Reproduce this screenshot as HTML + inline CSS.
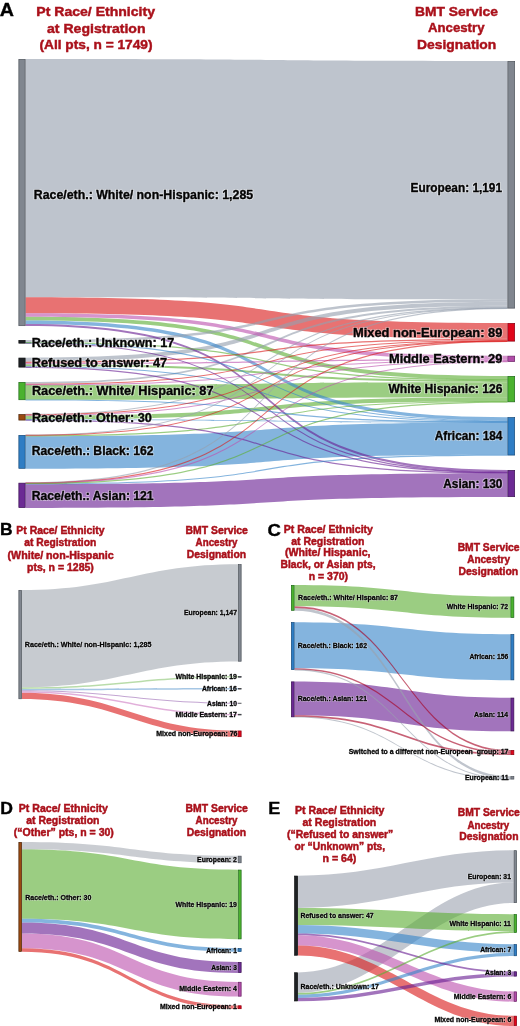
<!DOCTYPE html>
<html><head><meta charset="utf-8"><title>Sankey</title>
<style>
html,body{margin:0;padding:0;background:#fff;}
body{width:520px;height:1026px;overflow:hidden;}
svg{display:block;}
text{font-family:"Liberation Sans", sans-serif;font-weight:bold;}
svg{will-change:transform;}
g.shp{filter:blur(0.35px);}
g.halo{opacity:0.45;filter:blur(0.6px);}
</style></head><body>
<svg width="520" height="1026" viewBox="0 0 520 1026">
<rect width="520" height="1026" fill="#fff"/>
<g class="shp"><path d="M25.50,59.00C338.80,59.00 194.20,61.00 507.50,61.00L507.50,299.35C194.20,299.35 338.80,297.35 25.50,297.35Z" fill="rgba(150,160,174,0.62)"/>
<path d="M25.50,436.25C338.80,436.25 194.20,422.39 507.50,422.39L507.50,454.81C194.20,454.81 338.80,468.66 25.50,468.66Z" fill="rgba(57,134,202,0.62)"/>
<path d="M25.50,484.25C338.80,484.25 194.20,473.32 507.50,473.32L507.50,497.01C194.20,497.01 338.80,507.94 25.50,507.94Z" fill="rgba(105,31,147,0.62)"/>
<path d="M25.50,297.35C338.80,297.35 194.20,323.00 507.50,323.00L507.50,338.79C194.20,338.79 338.80,313.14 25.50,313.14Z" fill="rgba(218,28,28,0.62)"/>
<path d="M25.50,384.91C338.80,384.91 194.20,382.23 507.50,382.23L507.50,397.20C194.20,397.20 338.80,399.87 25.50,399.87Z" fill="rgba(94,174,53,0.62)"/>
<path d="M25.50,316.67C338.80,316.67 194.20,376.00 507.50,376.00L507.50,379.95C194.20,379.95 338.80,320.62 25.50,320.62Z" fill="rgba(94,174,53,0.62)"/>
<path d="M25.50,357.70C338.80,357.70 194.20,301.84 507.50,301.84L507.50,305.79C194.20,305.79 338.80,361.65 25.50,361.65Z" fill="rgba(150,160,174,0.62)"/>
<path d="M25.50,415.65C338.80,415.65 194.20,397.20 507.50,397.20L507.50,401.14C194.20,401.14 338.80,419.60 25.50,419.60Z" fill="rgba(94,174,53,0.62)"/>
<path d="M25.50,313.14C338.80,313.14 194.20,355.80 507.50,355.80L507.50,359.33C194.20,359.33 338.80,316.67 25.50,316.67Z" fill="rgba(189,82,174,0.62)"/>
<path d="M25.50,320.62C338.80,320.62 194.20,417.20 507.50,417.20L507.50,420.52C194.20,420.52 338.80,323.94 25.50,323.94Z" fill="rgba(57,134,202,0.62)"/>
<path d="M25.50,340.00C338.80,340.00 194.20,299.35 507.50,299.35L507.50,301.84C194.20,301.84 338.80,342.49 25.50,342.49Z" fill="rgba(150,160,174,0.62)"/>
<path d="M25.50,323.94C338.80,323.94 194.20,470.00 507.50,470.00L507.50,472.08C194.20,472.08 338.80,326.02 25.50,326.02Z" fill="rgba(105,31,147,0.62)"/>
<path d="M25.50,364.14C338.80,364.14 194.20,380.16 507.50,380.16L507.50,382.23C194.20,382.23 338.80,366.22 25.50,366.22Z" fill="rgba(94,174,53,0.62)"/>
<path d="M25.50,382.00C338.80,382.00 194.20,305.79 507.50,305.79L507.50,307.66C194.20,307.66 338.80,383.87 25.50,383.87Z" fill="rgba(150,160,174,0.62)"/>
<path d="M25.50,361.65C338.80,361.65 194.20,338.79 507.50,338.79L507.50,340.04C194.20,340.04 338.80,362.89 25.50,362.89Z" fill="rgba(218,28,28,0.62)"/>
<path d="M25.50,362.89C338.80,362.89 194.20,359.33 507.50,359.33L507.50,360.58C194.20,360.58 338.80,364.14 25.50,364.14Z" fill="rgba(189,82,174,0.62)"/>
<path d="M25.50,366.19C338.80,366.19 194.20,420.91 507.50,420.91L507.50,422.01C194.20,422.01 338.80,367.29 25.50,367.29Z" fill="rgba(57,134,202,0.62)"/>
<path d="M25.50,383.74C338.80,383.74 194.20,339.91 507.50,339.91L507.50,341.01C194.20,341.01 338.80,384.84 25.50,384.84Z" fill="rgba(218,28,28,0.62)"/>
<path d="M25.50,414.69C338.80,414.69 194.20,360.65 507.50,360.65L507.50,361.75C194.20,361.75 338.80,415.79 25.50,415.79Z" fill="rgba(189,82,174,0.62)"/>
<path d="M25.50,435.28C338.80,435.28 194.20,401.01 507.50,401.01L507.50,402.11C194.20,402.11 338.80,436.38 25.50,436.38Z" fill="rgba(94,174,53,0.62)"/>
<path d="M25.50,419.57C338.80,419.57 194.20,472.46 507.50,472.46L507.50,473.56C194.20,473.56 338.80,420.67 25.50,420.67Z" fill="rgba(105,31,147,0.62)"/>
<path d="M25.50,483.39C338.80,483.39 194.20,454.57 507.50,454.57L507.50,455.67C194.20,455.67 338.80,484.49 25.50,484.49Z" fill="rgba(57,134,202,0.62)"/>
<path d="M25.50,342.36C338.80,342.36 194.20,420.18 507.50,420.18L507.50,421.28C194.20,421.28 338.80,343.46 25.50,343.46Z" fill="rgba(57,134,202,0.62)"/>
<path d="M25.50,342.77C338.80,342.77 194.20,471.74 507.50,471.74L507.50,472.84C194.20,472.84 338.80,343.87 25.50,343.87Z" fill="rgba(105,31,147,0.62)"/>
<path d="M25.50,413.86C338.80,413.86 194.20,307.32 507.50,307.32L507.50,308.42C194.20,308.42 338.80,414.96 25.50,414.96Z" fill="rgba(150,160,174,0.62)"/>
<path d="M25.50,342.05C338.80,342.05 194.20,379.50 507.50,379.50L507.50,380.60C194.20,380.60 338.80,343.15 25.50,343.15Z" fill="rgba(94,174,53,0.62)"/>
<path d="M25.50,366.81C338.80,366.81 194.20,472.05 507.50,472.05L507.50,473.15C194.20,473.15 338.80,367.91 25.50,367.91Z" fill="rgba(105,31,147,0.62)"/>
<path d="M25.50,384.26C338.80,384.26 194.20,360.13 507.50,360.13L507.50,361.23C194.20,361.23 338.80,385.36 25.50,385.36Z" fill="rgba(189,82,174,0.62)"/>
<path d="M25.50,399.42C338.80,399.42 194.20,421.53 507.50,421.53L507.50,422.63C194.20,422.63 338.80,400.52 25.50,400.52Z" fill="rgba(57,134,202,0.62)"/>
<path d="M25.50,414.17C338.80,414.17 194.20,340.42 507.50,340.42L507.50,341.52C194.20,341.52 338.80,415.27 25.50,415.27Z" fill="rgba(218,28,28,0.62)"/>
<path d="M25.50,419.16C338.80,419.16 194.20,421.74 507.50,421.74L507.50,422.84C194.20,422.84 338.80,420.26 25.50,420.26Z" fill="rgba(57,134,202,0.62)"/>
<path d="M25.50,434.55C338.80,434.55 194.20,307.63 507.50,307.63L507.50,308.73C194.20,308.73 338.80,435.65 25.50,435.65Z" fill="rgba(150,160,174,0.62)"/>
<path d="M25.50,434.76C338.80,434.76 194.20,340.63 507.50,340.63L507.50,341.73C194.20,341.73 338.80,435.86 25.50,435.86Z" fill="rgba(218,28,28,0.62)"/>
<path d="M25.50,482.35C338.80,482.35 194.20,307.84 507.50,307.84L507.50,308.94C194.20,308.94 338.80,483.45 25.50,483.45Z" fill="rgba(150,160,174,0.62)"/>
<path d="M25.50,482.56C338.80,482.56 194.20,340.84 507.50,340.84L507.50,341.94C194.20,341.94 338.80,483.66 25.50,483.66Z" fill="rgba(218,28,28,0.62)"/>
<path d="M25.50,482.77C338.80,482.77 194.20,361.17 507.50,361.17L507.50,362.27C194.20,362.27 338.80,483.87 25.50,483.87Z" fill="rgba(189,82,174,0.62)"/>
<path d="M25.50,482.98C338.80,482.98 194.20,401.53 507.50,401.53L507.50,402.63C194.20,402.63 338.80,484.08 25.50,484.08Z" fill="rgba(94,174,53,0.62)"/>
<rect x="18.85" y="59.35" width="6.30" height="266.32" fill="#80868f" stroke="#4f545c" stroke-width="0.7"/>
<rect x="18.85" y="340.35" width="6.30" height="2.83" fill="#1e2124" stroke="#0d0f10" stroke-width="0.7"/>
<rect x="18.85" y="358.05" width="6.30" height="9.07" fill="#1e2124" stroke="#0d0f10" stroke-width="0.7"/>
<rect x="18.85" y="382.35" width="6.30" height="17.38" fill="#4bb22f" stroke="#1f6a18" stroke-width="0.7"/>
<rect x="18.85" y="414.55" width="6.30" height="5.53" fill="#9a4a10" stroke="#4a2206" stroke-width="0.7"/>
<rect x="18.85" y="435.35" width="6.30" height="32.96" fill="#2f7dc4" stroke="#164a7a" stroke-width="0.7"/>
<rect x="18.85" y="483.15" width="6.30" height="24.44" fill="#6c2a94" stroke="#3a1252" stroke-width="0.7"/>
<rect x="507.85" y="61.35" width="6.80" height="246.79" fill="#80868f" stroke="#4f545c" stroke-width="0.7"/>
<rect x="507.85" y="323.35" width="6.80" height="17.79" fill="#e0061b" stroke="#8a0010" stroke-width="0.7"/>
<rect x="507.85" y="356.15" width="6.80" height="5.33" fill="#b04ca8" stroke="#6a2064" stroke-width="0.7"/>
<rect x="507.85" y="376.35" width="6.80" height="25.48" fill="#4bb22f" stroke="#1f6a18" stroke-width="0.7"/>
<rect x="507.85" y="417.55" width="6.80" height="37.54" fill="#2f7dc4" stroke="#164a7a" stroke-width="0.7"/>
<rect x="507.85" y="470.35" width="6.80" height="26.31" fill="#6c2a94" stroke="#3a1252" stroke-width="0.7"/>
<path d="M22.00,590.00C119.20,590.00 140.80,564.20 238.00,564.20L238.00,661.58C140.80,661.58 119.20,687.38 22.00,687.38Z" fill="rgba(165,171,179,0.62)"/>
<path d="M22.00,692.64C119.20,692.64 140.80,730.60 238.00,730.60L238.00,737.05C140.80,737.05 119.20,699.10 22.00,699.10Z" fill="rgba(218,28,28,0.62)"/>
<path d="M22.00,687.38C119.20,687.38 140.80,676.00 238.00,676.00L238.00,677.61C140.80,677.61 119.20,688.99 22.00,688.99Z" fill="rgba(142,199,118,0.62)"/>
<path d="M22.00,691.20C119.20,691.20 140.80,713.90 238.00,713.90L238.00,715.34C140.80,715.34 119.20,692.64 22.00,692.64Z" fill="rgba(207,126,195,0.62)"/>
<path d="M22.00,688.99C119.20,688.99 140.80,688.10 238.00,688.10L238.00,689.46C140.80,689.46 119.20,690.35 22.00,690.35Z" fill="rgba(110,163,211,0.62)"/>
<path d="M22.00,690.23C119.20,690.23 140.80,702.67 238.00,702.67L238.00,703.77C140.80,703.77 119.20,691.33 22.00,691.33Z" fill="rgba(158,110,182,0.62)"/>
<rect x="18.85" y="590.35" width="2.80" height="108.40" fill="#80868f" stroke="#4f545c" stroke-width="0.7"/>
<rect x="238.35" y="564.55" width="2.80" height="96.68" fill="#80868f" stroke="#4f545c" stroke-width="0.7"/>
<rect x="238.35" y="676.35" width="2.80" height="0.91" fill="#55585e" stroke="#404348" stroke-width="0.7"/>
<rect x="238.35" y="688.45" width="2.80" height="0.66" fill="#55585e" stroke="#404348" stroke-width="0.7"/>
<rect x="238.35" y="703.15" width="2.80" height="0.15" fill="#55585e" stroke="#404348" stroke-width="0.7"/>
<rect x="238.35" y="714.25" width="2.80" height="0.74" fill="#55585e" stroke="#404348" stroke-width="0.7"/>
<rect x="238.35" y="730.95" width="2.80" height="5.75" fill="#e0061b" stroke="#8a0010" stroke-width="0.7"/>
<path d="M294.50,622.20C402.50,622.20 402.50,634.20 510.50,634.20L510.50,680.22C402.50,680.22 402.50,668.22 294.50,668.22Z" fill="rgba(57,134,202,0.62)"/>
<path d="M294.50,681.50C402.50,681.50 402.50,697.70 510.50,697.70L510.50,731.33C402.50,731.33 402.50,715.13 294.50,715.13Z" fill="rgba(105,31,147,0.62)"/>
<path d="M294.50,585.00C402.50,585.00 402.50,596.60 510.50,596.60L510.50,617.84C402.50,617.84 402.50,606.24 294.50,606.24Z" fill="rgba(94,174,53,0.62)"/>
<path d="M294.50,608.01C402.50,608.01 402.50,776.20 510.50,776.20L510.50,778.86C402.50,778.86 402.50,610.66 294.50,610.66Z" fill="rgba(153,161,174,0.62)"/>
<path d="M294.50,606.24C402.50,606.24 402.50,750.00 510.50,750.00L510.50,751.77C402.50,751.77 402.50,608.01 294.50,608.01Z" fill="rgba(166,0,34,0.62)"/>
<path d="M294.50,715.13C402.50,715.13 402.50,753.25 510.50,753.25L510.50,755.01C402.50,755.01 402.50,716.90 294.50,716.90Z" fill="rgba(166,0,34,0.62)"/>
<path d="M294.50,668.22C402.50,668.22 402.50,751.77 510.50,751.77L510.50,753.25C402.50,753.25 402.50,669.70 294.50,669.70Z" fill="rgba(166,0,34,0.62)"/>
<path d="M294.50,669.29C402.50,669.29 402.50,778.45 510.50,778.45L510.50,779.55C402.50,779.55 402.50,670.39 294.50,670.39Z" fill="rgba(153,161,174,0.62)"/>
<path d="M294.50,716.50C402.50,716.50 402.50,778.75 510.50,778.75L510.50,779.85C402.50,779.85 402.50,717.60 294.50,717.60Z" fill="rgba(153,161,174,0.62)"/>
<rect x="291.35" y="585.35" width="2.80" height="24.96" fill="#4bb22f" stroke="#1f6a18" stroke-width="0.7"/>
<rect x="291.35" y="622.55" width="2.80" height="47.09" fill="#2f7dc4" stroke="#164a7a" stroke-width="0.7"/>
<rect x="291.35" y="681.85" width="2.80" height="35.00" fill="#6c2a94" stroke="#3a1252" stroke-width="0.7"/>
<rect x="510.85" y="596.95" width="3.00" height="20.54" fill="#4bb22f" stroke="#1f6a18" stroke-width="0.7"/>
<rect x="510.85" y="634.55" width="3.00" height="45.32" fill="#2f7dc4" stroke="#164a7a" stroke-width="0.7"/>
<rect x="510.85" y="698.05" width="3.00" height="32.93" fill="#6c2a94" stroke="#3a1252" stroke-width="0.7"/>
<rect x="510.85" y="750.35" width="3.00" height="4.31" fill="#e0061b" stroke="#8a0010" stroke-width="0.7"/>
<rect x="510.85" y="776.55" width="3.00" height="2.55" fill="#80868f" stroke="#4f545c" stroke-width="0.7"/>
<path d="M22.00,849.32C130.10,849.32 130.10,869.70 238.20,869.70L238.20,939.24C130.10,939.24 130.10,918.86 22.00,918.86Z" fill="rgba(94,174,53,0.62)"/>
<path d="M22.00,933.50C130.10,933.50 130.10,981.90 238.20,981.90L238.20,996.54C130.10,996.54 130.10,948.14 22.00,948.14Z" fill="rgba(189,82,174,0.62)"/>
<path d="M22.00,922.52C130.10,922.52 130.10,962.00 238.20,962.00L238.20,972.98C130.10,972.98 130.10,933.50 22.00,933.50Z" fill="rgba(105,31,147,0.62)"/>
<path d="M22.00,842.00C130.10,842.00 130.10,855.80 238.20,855.80L238.20,863.12C130.10,863.12 130.10,849.32 22.00,849.32Z" fill="rgba(170,174,182,0.62)"/>
<path d="M22.00,918.86C130.10,918.86 130.10,948.20 238.20,948.20L238.20,951.86C130.10,951.86 130.10,922.52 22.00,922.52Z" fill="rgba(57,134,202,0.62)"/>
<path d="M22.00,948.14C130.10,948.14 130.10,1005.40 238.20,1005.40L238.20,1009.06C130.10,1009.06 130.10,951.80 22.00,951.80Z" fill="rgba(218,28,28,0.62)"/>
<rect x="18.85" y="842.35" width="2.80" height="109.10" fill="#9a4a10" stroke="#4a2206" stroke-width="0.7"/>
<rect x="238.55" y="856.15" width="2.60" height="6.62" fill="#80868f" stroke="#4f545c" stroke-width="0.7"/>
<rect x="238.55" y="870.05" width="2.60" height="68.84" fill="#4bb22f" stroke="#1f6a18" stroke-width="0.7"/>
<rect x="238.55" y="948.55" width="2.60" height="2.96" fill="#2f7dc4" stroke="#164a7a" stroke-width="0.7"/>
<rect x="238.55" y="962.35" width="2.60" height="10.28" fill="#6c2a94" stroke="#3a1252" stroke-width="0.7"/>
<rect x="238.55" y="982.25" width="2.60" height="13.94" fill="#b04ca8" stroke="#6a2064" stroke-width="0.7"/>
<rect x="238.55" y="1005.75" width="2.60" height="2.96" fill="#e0061b" stroke="#8a0010" stroke-width="0.7"/>
<path d="M298.00,875.70C384.28,875.70 427.42,850.30 513.70,850.30L513.70,882.60C427.42,882.60 384.28,908.00 298.00,908.00Z" fill="rgba(158,165,178,0.62)"/>
<path d="M298.00,972.40C384.28,972.40 427.42,882.60 513.70,882.60L513.70,903.00C427.42,903.00 384.28,992.80 298.00,992.80Z" fill="rgba(158,165,178,0.62)"/>
<path d="M298.00,908.00C384.28,908.00 427.42,914.20 513.70,914.20L513.70,931.20C427.42,931.20 384.28,925.00 298.00,925.00Z" fill="rgba(94,174,53,0.62)"/>
<path d="M298.00,935.20C384.28,935.20 427.42,991.50 513.70,991.50L513.70,1001.70C427.42,1001.70 384.28,945.40 298.00,945.40Z" fill="rgba(189,82,174,0.62)"/>
<path d="M298.00,945.40C384.28,945.40 427.42,1015.80 513.70,1015.80L513.70,1026.00C427.42,1026.00 384.28,955.60 298.00,955.60Z" fill="rgba(218,28,28,0.62)"/>
<path d="M298.00,925.00C384.28,925.00 427.42,944.20 513.70,944.20L513.70,952.70C427.42,952.70 384.28,933.50 298.00,933.50Z" fill="rgba(57,134,202,0.62)"/>
<path d="M298.00,994.50C384.28,994.50 427.42,952.70 513.70,952.70L513.70,956.10C427.42,956.10 384.28,997.90 298.00,997.90Z" fill="rgba(57,134,202,0.62)"/>
<path d="M298.00,997.90C384.28,997.90 427.42,973.10 513.70,973.10L513.70,976.50C427.42,976.50 384.28,1001.30 298.00,1001.30Z" fill="rgba(105,31,147,0.62)"/>
<path d="M298.00,933.50C384.28,933.50 427.42,971.40 513.70,971.40L513.70,973.10C427.42,973.10 384.28,935.20 298.00,935.20Z" fill="rgba(105,31,147,0.62)"/>
<path d="M298.00,992.80C384.28,992.80 427.42,931.20 513.70,931.20L513.70,932.90C427.42,932.90 384.28,994.50 298.00,994.50Z" fill="rgba(94,174,53,0.62)"/>
<rect x="294.65" y="876.05" width="3.00" height="79.20" fill="#1e2124" stroke="#0d0f10" stroke-width="0.7"/>
<rect x="294.65" y="972.75" width="3.00" height="28.20" fill="#1e2124" stroke="#0d0f10" stroke-width="0.7"/>
<rect x="514.05" y="850.65" width="2.60" height="52.00" fill="#80868f" stroke="#4f545c" stroke-width="0.7"/>
<rect x="514.05" y="914.55" width="2.60" height="18.00" fill="#4bb22f" stroke="#1f6a18" stroke-width="0.7"/>
<rect x="514.05" y="944.55" width="2.60" height="11.20" fill="#2f7dc4" stroke="#164a7a" stroke-width="0.7"/>
<rect x="514.05" y="971.75" width="2.60" height="4.40" fill="#6c2a94" stroke="#3a1252" stroke-width="0.7"/>
<rect x="514.05" y="991.85" width="2.60" height="9.50" fill="#b04ca8" stroke="#6a2064" stroke-width="0.7"/>
<rect x="514.05" y="1016.15" width="2.60" height="9.50" fill="#e0061b" stroke="#8a0010" stroke-width="0.7"/></g>
<g class="halo"><text x="-0.30" y="15.90" font-size="18.3" fill="#fff" stroke="#fff" stroke-width="2.2" stroke-linejoin="round" text-anchor="start" textLength="14.20" lengthAdjust="spacingAndGlyphs">A</text>
<text x="0.00" y="535.00" font-size="16.3" fill="#fff" stroke="#fff" stroke-width="2.2" stroke-linejoin="round" text-anchor="start" textLength="12.60" lengthAdjust="spacingAndGlyphs">B</text>
<text x="267.60" y="535.60" font-size="17.0" fill="#fff" stroke="#fff" stroke-width="2.2" stroke-linejoin="round" text-anchor="start" textLength="13.40" lengthAdjust="spacingAndGlyphs">C</text>
<text x="0.20" y="813.80" font-size="15.6" fill="#fff" stroke="#fff" stroke-width="2.2" stroke-linejoin="round" text-anchor="start" textLength="12.70" lengthAdjust="spacingAndGlyphs">D</text>
<text x="268.30" y="813.80" font-size="16.5" fill="#fff" stroke="#fff" stroke-width="2.2" stroke-linejoin="round" text-anchor="start" textLength="12.00" lengthAdjust="spacingAndGlyphs">E</text>
<text x="33.80" y="198.50" font-size="12" fill="#fff" stroke="#fff" stroke-width="2.2" stroke-linejoin="round" text-anchor="start" textLength="219.30" lengthAdjust="spacingAndGlyphs">Race/eth.: White/ non-Hispanic: 1,285</text>
<text x="31.80" y="346.50" font-size="12" fill="#fff" stroke="#fff" stroke-width="2.2" stroke-linejoin="round" text-anchor="start" textLength="142.40" lengthAdjust="spacingAndGlyphs">Race/eth.: Unknown: 17</text>
<text x="31.80" y="367.40" font-size="12" fill="#fff" stroke="#fff" stroke-width="2.2" stroke-linejoin="round" text-anchor="start" textLength="135.40" lengthAdjust="spacingAndGlyphs">Refused to answer: 47</text>
<text x="31.90" y="395.40" font-size="12" fill="#fff" stroke="#fff" stroke-width="2.2" stroke-linejoin="round" text-anchor="start" textLength="181.60" lengthAdjust="spacingAndGlyphs">Race/eth.: White/ Hispanic: 87</text>
<text x="31.90" y="421.50" font-size="12" fill="#fff" stroke="#fff" stroke-width="2.2" stroke-linejoin="round" text-anchor="start" textLength="120.00" lengthAdjust="spacingAndGlyphs">Race/eth.: Other: 30</text>
<text x="31.80" y="455.40" font-size="12" fill="#fff" stroke="#fff" stroke-width="2.2" stroke-linejoin="round" text-anchor="start" textLength="121.80" lengthAdjust="spacingAndGlyphs">Race/eth.: Black: 162</text>
<text x="31.80" y="500.00" font-size="12" fill="#fff" stroke="#fff" stroke-width="2.2" stroke-linejoin="round" text-anchor="start" textLength="121.80" lengthAdjust="spacingAndGlyphs">Race/eth.: Asian: 121</text>
<text x="410.60" y="191.50" font-size="12" fill="#fff" stroke="#fff" stroke-width="2.2" stroke-linejoin="round" text-anchor="start" textLength="91.40" lengthAdjust="spacingAndGlyphs">European: 1,191</text>
<text x="353.00" y="336.60" font-size="12" fill="#fff" stroke="#fff" stroke-width="2.2" stroke-linejoin="round" text-anchor="start" textLength="149.40" lengthAdjust="spacingAndGlyphs">Mixed non-European: 89</text>
<text x="389.00" y="362.70" font-size="12" fill="#fff" stroke="#fff" stroke-width="2.2" stroke-linejoin="round" text-anchor="start" textLength="113.40" lengthAdjust="spacingAndGlyphs">Middle Eastern: 29</text>
<text x="388.40" y="393.00" font-size="12" fill="#fff" stroke="#fff" stroke-width="2.2" stroke-linejoin="round" text-anchor="start" textLength="114.00" lengthAdjust="spacingAndGlyphs">White Hispanic: 126</text>
<text x="434.80" y="440.40" font-size="12" fill="#fff" stroke="#fff" stroke-width="2.2" stroke-linejoin="round" text-anchor="start" textLength="67.60" lengthAdjust="spacingAndGlyphs">African: 184</text>
<text x="443.30" y="487.70" font-size="12" fill="#fff" stroke="#fff" stroke-width="2.2" stroke-linejoin="round" text-anchor="start" textLength="59.10" lengthAdjust="spacingAndGlyphs">Asian: 130</text>
<text x="24.80" y="647.10" font-size="7" fill="#fff" stroke="#fff" stroke-width="1.4" stroke-linejoin="round" text-anchor="start" textLength="126.60" lengthAdjust="spacingAndGlyphs">Race/eth.: White/ non-Hispanic: 1,285</text>
<text x="183.90" y="615.20" font-size="7" fill="#fff" stroke="#fff" stroke-width="1.4" stroke-linejoin="round" text-anchor="start" textLength="53.10" lengthAdjust="spacingAndGlyphs">European: 1,147</text>
<text x="175.60" y="679.30" font-size="7" fill="#fff" stroke="#fff" stroke-width="1.4" stroke-linejoin="round" text-anchor="start" textLength="61.30" lengthAdjust="spacingAndGlyphs">White Hispanic: 19</text>
<text x="201.90" y="690.90" font-size="7" fill="#fff" stroke="#fff" stroke-width="1.4" stroke-linejoin="round" text-anchor="start" textLength="35.00" lengthAdjust="spacingAndGlyphs">African: 16</text>
<text x="207.10" y="706.00" font-size="7" fill="#fff" stroke="#fff" stroke-width="1.4" stroke-linejoin="round" text-anchor="start" textLength="29.80" lengthAdjust="spacingAndGlyphs">Asian: 10</text>
<text x="175.60" y="717.00" font-size="7" fill="#fff" stroke="#fff" stroke-width="1.4" stroke-linejoin="round" text-anchor="start" textLength="61.30" lengthAdjust="spacingAndGlyphs">Middle Eastern: 17</text>
<text x="156.30" y="735.80" font-size="7" fill="#fff" stroke="#fff" stroke-width="1.4" stroke-linejoin="round" text-anchor="start" textLength="81.20" lengthAdjust="spacingAndGlyphs">Mixed non-European: 76</text>
<text x="298.10" y="599.70" font-size="7" fill="#fff" stroke="#fff" stroke-width="1.4" stroke-linejoin="round" text-anchor="start" textLength="99.90" lengthAdjust="spacingAndGlyphs">Race/eth.: White/ Hispanic: 87</text>
<text x="297.80" y="648.00" font-size="7" fill="#fff" stroke="#fff" stroke-width="1.4" stroke-linejoin="round" text-anchor="start" textLength="69.20" lengthAdjust="spacingAndGlyphs">Race/eth.: Black: 162</text>
<text x="297.80" y="700.70" font-size="7" fill="#fff" stroke="#fff" stroke-width="1.4" stroke-linejoin="round" text-anchor="start" textLength="69.20" lengthAdjust="spacingAndGlyphs">Race/eth.: Asian: 121</text>
<text x="446.80" y="609.20" font-size="7" fill="#fff" stroke="#fff" stroke-width="1.4" stroke-linejoin="round" text-anchor="start" textLength="61.40" lengthAdjust="spacingAndGlyphs">White Hispanic: 72</text>
<text x="469.40" y="658.80" font-size="7" fill="#fff" stroke="#fff" stroke-width="1.4" stroke-linejoin="round" text-anchor="start" textLength="38.80" lengthAdjust="spacingAndGlyphs">African: 156</text>
<text x="474.10" y="716.80" font-size="7" fill="#fff" stroke="#fff" stroke-width="1.4" stroke-linejoin="round" text-anchor="start" textLength="34.10" lengthAdjust="spacingAndGlyphs">Asian: 114</text>
<text x="348.70" y="753.80" font-size="7" fill="#fff" stroke="#fff" stroke-width="1.4" stroke-linejoin="round" text-anchor="start" textLength="159.80" lengthAdjust="spacingAndGlyphs">Switched to a different non-European  group: 17</text>
<text x="465.00" y="779.70" font-size="7" fill="#fff" stroke="#fff" stroke-width="1.4" stroke-linejoin="round" text-anchor="start" textLength="43.50" lengthAdjust="spacingAndGlyphs">European: 11</text>
<text x="25.20" y="899.50" font-size="7" fill="#fff" stroke="#fff" stroke-width="1.4" stroke-linejoin="round" text-anchor="start" textLength="66.10" lengthAdjust="spacingAndGlyphs">Race/eth.: Other: 30</text>
<text x="197.10" y="861.90" font-size="7" fill="#fff" stroke="#fff" stroke-width="1.4" stroke-linejoin="round" text-anchor="start" textLength="39.80" lengthAdjust="spacingAndGlyphs">European: 2</text>
<text x="175.60" y="906.70" font-size="7" fill="#fff" stroke="#fff" stroke-width="1.4" stroke-linejoin="round" text-anchor="start" textLength="61.30" lengthAdjust="spacingAndGlyphs">White Hispanic: 19</text>
<text x="206.20" y="952.50" font-size="7" fill="#fff" stroke="#fff" stroke-width="1.4" stroke-linejoin="round" text-anchor="start" textLength="30.70" lengthAdjust="spacingAndGlyphs">African: 1</text>
<text x="211.20" y="969.80" font-size="7" fill="#fff" stroke="#fff" stroke-width="1.4" stroke-linejoin="round" text-anchor="start" textLength="25.70" lengthAdjust="spacingAndGlyphs">Asian: 3</text>
<text x="179.20" y="991.00" font-size="7" fill="#fff" stroke="#fff" stroke-width="1.4" stroke-linejoin="round" text-anchor="start" textLength="57.70" lengthAdjust="spacingAndGlyphs">Middle Eastern: 4</text>
<text x="160.00" y="1009.20" font-size="7" fill="#fff" stroke="#fff" stroke-width="1.4" stroke-linejoin="round" text-anchor="start" textLength="76.90" lengthAdjust="spacingAndGlyphs">Mixed non-European: 1</text>
<text x="300.50" y="918.00" font-size="7" fill="#fff" stroke="#fff" stroke-width="1.4" stroke-linejoin="round" text-anchor="start" textLength="73.20" lengthAdjust="spacingAndGlyphs">Refused to answer: 47</text>
<text x="300.50" y="988.80" font-size="7" fill="#fff" stroke="#fff" stroke-width="1.4" stroke-linejoin="round" text-anchor="start" textLength="78.40" lengthAdjust="spacingAndGlyphs">Race/eth.: Unknown: 17</text>
<text x="467.70" y="878.80" font-size="7" fill="#fff" stroke="#fff" stroke-width="1.4" stroke-linejoin="round" text-anchor="start" textLength="43.30" lengthAdjust="spacingAndGlyphs">European: 31</text>
<text x="449.40" y="925.60" font-size="7" fill="#fff" stroke="#fff" stroke-width="1.4" stroke-linejoin="round" text-anchor="start" textLength="61.60" lengthAdjust="spacingAndGlyphs">White Hispanic: 11</text>
<text x="480.20" y="951.50" font-size="7" fill="#fff" stroke="#fff" stroke-width="1.4" stroke-linejoin="round" text-anchor="start" textLength="31.10" lengthAdjust="spacingAndGlyphs">African: 7</text>
<text x="485.00" y="975.40" font-size="7" fill="#fff" stroke="#fff" stroke-width="1.4" stroke-linejoin="round" text-anchor="start" textLength="26.30" lengthAdjust="spacingAndGlyphs">Asian: 3</text>
<text x="453.70" y="998.50" font-size="7" fill="#fff" stroke="#fff" stroke-width="1.4" stroke-linejoin="round" text-anchor="start" textLength="57.60" lengthAdjust="spacingAndGlyphs">Middle Eastern: 6</text>
<text x="434.40" y="1022.10" font-size="7" fill="#fff" stroke="#fff" stroke-width="1.4" stroke-linejoin="round" text-anchor="start" textLength="76.90" lengthAdjust="spacingAndGlyphs">Mixed non-European: 6</text></g>
<g class="txt"><text class="l" x="-0.30" y="15.90" font-size="18.3" fill="#000" stroke="#000" stroke-width="0.35" text-anchor="start" textLength="14.20" lengthAdjust="spacingAndGlyphs">A</text>
<text class="l" x="0.00" y="535.00" font-size="16.3" fill="#000" stroke="#000" stroke-width="0.35" text-anchor="start" textLength="12.60" lengthAdjust="spacingAndGlyphs">B</text>
<text class="l" x="267.60" y="535.60" font-size="17.0" fill="#000" stroke="#000" stroke-width="0.35" text-anchor="start" textLength="13.40" lengthAdjust="spacingAndGlyphs">C</text>
<text class="l" x="0.20" y="813.80" font-size="15.6" fill="#000" stroke="#000" stroke-width="0.35" text-anchor="start" textLength="12.70" lengthAdjust="spacingAndGlyphs">D</text>
<text class="l" x="268.30" y="813.80" font-size="16.5" fill="#000" stroke="#000" stroke-width="0.35" text-anchor="start" textLength="12.00" lengthAdjust="spacingAndGlyphs">E</text>
<text class="t" x="36.30" y="16.30" font-size="13.5" fill="#aa111b" stroke="#aa111b" stroke-width="0.45" text-anchor="start" textLength="118.70" lengthAdjust="spacingAndGlyphs">Pt Race/ Ethnicity</text>
<text class="t" x="47.00" y="32.50" font-size="13.5" fill="#aa111b" stroke="#aa111b" stroke-width="0.45" text-anchor="start" textLength="98.50" lengthAdjust="spacingAndGlyphs">at Registration</text>
<text class="t" x="39.50" y="48.80" font-size="13.5" fill="#aa111b" stroke="#aa111b" stroke-width="0.45" text-anchor="start" textLength="113.00" lengthAdjust="spacingAndGlyphs">(All pts, n = 1749)</text>
<text class="t" x="415.00" y="15.60" font-size="13.5" fill="#aa111b" stroke="#aa111b" stroke-width="0.45" text-anchor="start" textLength="83.00" lengthAdjust="spacingAndGlyphs">BMT Service</text>
<text class="t" x="428.00" y="32.00" font-size="13.5" fill="#aa111b" stroke="#aa111b" stroke-width="0.45" text-anchor="start" textLength="56.50" lengthAdjust="spacingAndGlyphs">Ancestry</text>
<text class="t" x="417.00" y="48.80" font-size="13.5" fill="#aa111b" stroke="#aa111b" stroke-width="0.45" text-anchor="start" textLength="79.30" lengthAdjust="spacingAndGlyphs">Designation</text>
<text class="l" x="33.80" y="198.50" font-size="12" fill="#050505" stroke="#050505" stroke-width="0.35" text-anchor="start" textLength="219.30" lengthAdjust="spacingAndGlyphs">Race/eth.: White/ non-Hispanic: 1,285</text>
<text class="l" x="31.80" y="346.50" font-size="12" fill="#050505" stroke="#050505" stroke-width="0.35" text-anchor="start" textLength="142.40" lengthAdjust="spacingAndGlyphs">Race/eth.: Unknown: 17</text>
<text class="l" x="31.80" y="367.40" font-size="12" fill="#050505" stroke="#050505" stroke-width="0.35" text-anchor="start" textLength="135.40" lengthAdjust="spacingAndGlyphs">Refused to answer: 47</text>
<text class="l" x="31.90" y="395.40" font-size="12" fill="#050505" stroke="#050505" stroke-width="0.35" text-anchor="start" textLength="181.60" lengthAdjust="spacingAndGlyphs">Race/eth.: White/ Hispanic: 87</text>
<text class="l" x="31.90" y="421.50" font-size="12" fill="#050505" stroke="#050505" stroke-width="0.35" text-anchor="start" textLength="120.00" lengthAdjust="spacingAndGlyphs">Race/eth.: Other: 30</text>
<text class="l" x="31.80" y="455.40" font-size="12" fill="#050505" stroke="#050505" stroke-width="0.35" text-anchor="start" textLength="121.80" lengthAdjust="spacingAndGlyphs">Race/eth.: Black: 162</text>
<text class="l" x="31.80" y="500.00" font-size="12" fill="#050505" stroke="#050505" stroke-width="0.35" text-anchor="start" textLength="121.80" lengthAdjust="spacingAndGlyphs">Race/eth.: Asian: 121</text>
<text class="l" x="410.60" y="191.50" font-size="12" fill="#050505" stroke="#050505" stroke-width="0.35" text-anchor="start" textLength="91.40" lengthAdjust="spacingAndGlyphs">European: 1,191</text>
<text class="l" x="353.00" y="336.60" font-size="12" fill="#050505" stroke="#050505" stroke-width="0.35" text-anchor="start" textLength="149.40" lengthAdjust="spacingAndGlyphs">Mixed non-European: 89</text>
<text class="l" x="389.00" y="362.70" font-size="12" fill="#050505" stroke="#050505" stroke-width="0.35" text-anchor="start" textLength="113.40" lengthAdjust="spacingAndGlyphs">Middle Eastern: 29</text>
<text class="l" x="388.40" y="393.00" font-size="12" fill="#050505" stroke="#050505" stroke-width="0.35" text-anchor="start" textLength="114.00" lengthAdjust="spacingAndGlyphs">White Hispanic: 126</text>
<text class="l" x="434.80" y="440.40" font-size="12" fill="#050505" stroke="#050505" stroke-width="0.35" text-anchor="start" textLength="67.60" lengthAdjust="spacingAndGlyphs">African: 184</text>
<text class="l" x="443.30" y="487.70" font-size="12" fill="#050505" stroke="#050505" stroke-width="0.35" text-anchor="start" textLength="59.10" lengthAdjust="spacingAndGlyphs">Asian: 130</text>
<text class="t" x="16.30" y="533.70" font-size="10.0" fill="#aa111b" stroke="#aa111b" stroke-width="0.45" text-anchor="start" textLength="88.20" lengthAdjust="spacingAndGlyphs">Pt Race/ Ethnicity</text>
<text class="t" x="24.30" y="546.20" font-size="10.0" fill="#aa111b" stroke="#aa111b" stroke-width="0.45" text-anchor="start" textLength="72.00" lengthAdjust="spacingAndGlyphs">at Registration</text>
<text class="t" x="7.50" y="558.50" font-size="10.0" fill="#aa111b" stroke="#aa111b" stroke-width="0.45" text-anchor="start" textLength="106.30" lengthAdjust="spacingAndGlyphs">(White/ non-Hispanic</text>
<text class="t" x="27.00" y="570.50" font-size="10.0" fill="#aa111b" stroke="#aa111b" stroke-width="0.45" text-anchor="start" textLength="66.80" lengthAdjust="spacingAndGlyphs">pts, n = 1285)</text>
<text class="t" x="185.60" y="533.50" font-size="10.0" fill="#aa111b" stroke="#aa111b" stroke-width="0.45" text-anchor="start" textLength="62.30" lengthAdjust="spacingAndGlyphs">BMT Service</text>
<text class="t" x="195.60" y="546.10" font-size="10.0" fill="#aa111b" stroke="#aa111b" stroke-width="0.45" text-anchor="start" textLength="41.90" lengthAdjust="spacingAndGlyphs">Ancestry</text>
<text class="t" x="186.80" y="558.30" font-size="10.0" fill="#aa111b" stroke="#aa111b" stroke-width="0.45" text-anchor="start" textLength="59.30" lengthAdjust="spacingAndGlyphs">Designation</text>
<text class="s" x="24.80" y="647.10" font-size="7" fill="#050505" stroke="#050505" stroke-width="0.3" text-anchor="start" textLength="126.60" lengthAdjust="spacingAndGlyphs">Race/eth.: White/ non-Hispanic: 1,285</text>
<text class="s" x="183.90" y="615.20" font-size="7" fill="#050505" stroke="#050505" stroke-width="0.3" text-anchor="start" textLength="53.10" lengthAdjust="spacingAndGlyphs">European: 1,147</text>
<text class="s" x="175.60" y="679.30" font-size="7" fill="#050505" stroke="#050505" stroke-width="0.3" text-anchor="start" textLength="61.30" lengthAdjust="spacingAndGlyphs">White Hispanic: 19</text>
<text class="s" x="201.90" y="690.90" font-size="7" fill="#050505" stroke="#050505" stroke-width="0.3" text-anchor="start" textLength="35.00" lengthAdjust="spacingAndGlyphs">African: 16</text>
<text class="s" x="207.10" y="706.00" font-size="7" fill="#050505" stroke="#050505" stroke-width="0.3" text-anchor="start" textLength="29.80" lengthAdjust="spacingAndGlyphs">Asian: 10</text>
<text class="s" x="175.60" y="717.00" font-size="7" fill="#050505" stroke="#050505" stroke-width="0.3" text-anchor="start" textLength="61.30" lengthAdjust="spacingAndGlyphs">Middle Eastern: 17</text>
<text class="s" x="156.30" y="735.80" font-size="7" fill="#050505" stroke="#050505" stroke-width="0.3" text-anchor="start" textLength="81.20" lengthAdjust="spacingAndGlyphs">Mixed non-European: 76</text>
<text class="t" x="283.80" y="532.50" font-size="10.0" fill="#aa111b" stroke="#aa111b" stroke-width="0.45" text-anchor="start" textLength="89.20" lengthAdjust="spacingAndGlyphs">Pt Race/ Ethnicity</text>
<text class="t" x="291.30" y="544.50" font-size="10.0" fill="#aa111b" stroke="#aa111b" stroke-width="0.45" text-anchor="start" textLength="73.20" lengthAdjust="spacingAndGlyphs">at Registration</text>
<text class="t" x="285.00" y="556.30" font-size="10.0" fill="#aa111b" stroke="#aa111b" stroke-width="0.45" text-anchor="start" textLength="85.50" lengthAdjust="spacingAndGlyphs">(White/ Hispanic,</text>
<text class="t" x="280.50" y="568.30" font-size="10.0" fill="#aa111b" stroke="#aa111b" stroke-width="0.45" text-anchor="start" textLength="95.00" lengthAdjust="spacingAndGlyphs">Black, or Asian pts,</text>
<text class="t" x="308.80" y="580.00" font-size="10.0" fill="#aa111b" stroke="#aa111b" stroke-width="0.45" text-anchor="start" textLength="39.20" lengthAdjust="spacingAndGlyphs">n = 370)</text>
<text class="t" x="457.70" y="550.80" font-size="10.0" fill="#aa111b" stroke="#aa111b" stroke-width="0.45" text-anchor="start" textLength="61.80" lengthAdjust="spacingAndGlyphs">BMT Service</text>
<text class="t" x="467.20" y="563.40" font-size="10.0" fill="#aa111b" stroke="#aa111b" stroke-width="0.45" text-anchor="start" textLength="42.80" lengthAdjust="spacingAndGlyphs">Ancestry</text>
<text class="t" x="458.50" y="575.30" font-size="10.0" fill="#aa111b" stroke="#aa111b" stroke-width="0.45" text-anchor="start" textLength="59.70" lengthAdjust="spacingAndGlyphs">Designation</text>
<text class="s" x="298.10" y="599.70" font-size="7" fill="#050505" stroke="#050505" stroke-width="0.3" text-anchor="start" textLength="99.90" lengthAdjust="spacingAndGlyphs">Race/eth.: White/ Hispanic: 87</text>
<text class="s" x="297.80" y="648.00" font-size="7" fill="#050505" stroke="#050505" stroke-width="0.3" text-anchor="start" textLength="69.20" lengthAdjust="spacingAndGlyphs">Race/eth.: Black: 162</text>
<text class="s" x="297.80" y="700.70" font-size="7" fill="#050505" stroke="#050505" stroke-width="0.3" text-anchor="start" textLength="69.20" lengthAdjust="spacingAndGlyphs">Race/eth.: Asian: 121</text>
<text class="s" x="446.80" y="609.20" font-size="7" fill="#050505" stroke="#050505" stroke-width="0.3" text-anchor="start" textLength="61.40" lengthAdjust="spacingAndGlyphs">White Hispanic: 72</text>
<text class="s" x="469.40" y="658.80" font-size="7" fill="#050505" stroke="#050505" stroke-width="0.3" text-anchor="start" textLength="38.80" lengthAdjust="spacingAndGlyphs">African: 156</text>
<text class="s" x="474.10" y="716.80" font-size="7" fill="#050505" stroke="#050505" stroke-width="0.3" text-anchor="start" textLength="34.10" lengthAdjust="spacingAndGlyphs">Asian: 114</text>
<text class="s" x="348.70" y="753.80" font-size="7" fill="#050505" stroke="#050505" stroke-width="0.3" text-anchor="start" textLength="159.80" lengthAdjust="spacingAndGlyphs">Switched to a different non-European  group: 17</text>
<text class="s" x="465.00" y="779.70" font-size="7" fill="#050505" stroke="#050505" stroke-width="0.3" text-anchor="start" textLength="43.50" lengthAdjust="spacingAndGlyphs">European: 11</text>
<text class="t" x="18.80" y="812.00" font-size="10.0" fill="#aa111b" stroke="#aa111b" stroke-width="0.45" text-anchor="start" textLength="89.20" lengthAdjust="spacingAndGlyphs">Pt Race/ Ethnicity</text>
<text class="t" x="26.30" y="823.80" font-size="10.0" fill="#aa111b" stroke="#aa111b" stroke-width="0.45" text-anchor="start" textLength="73.20" lengthAdjust="spacingAndGlyphs">at Registration</text>
<text class="t" x="13.80" y="835.50" font-size="10.0" fill="#aa111b" stroke="#aa111b" stroke-width="0.45" text-anchor="start" textLength="100.00" lengthAdjust="spacingAndGlyphs">(“Other” pts, n = 30)</text>
<text class="t" x="185.60" y="811.80" font-size="10.0" fill="#aa111b" stroke="#aa111b" stroke-width="0.45" text-anchor="start" textLength="62.30" lengthAdjust="spacingAndGlyphs">BMT Service</text>
<text class="t" x="195.60" y="823.90" font-size="10.0" fill="#aa111b" stroke="#aa111b" stroke-width="0.45" text-anchor="start" textLength="41.90" lengthAdjust="spacingAndGlyphs">Ancestry</text>
<text class="t" x="186.80" y="836.00" font-size="10.0" fill="#aa111b" stroke="#aa111b" stroke-width="0.45" text-anchor="start" textLength="59.30" lengthAdjust="spacingAndGlyphs">Designation</text>
<text class="s" x="25.20" y="899.50" font-size="7" fill="#050505" stroke="#050505" stroke-width="0.3" text-anchor="start" textLength="66.10" lengthAdjust="spacingAndGlyphs">Race/eth.: Other: 30</text>
<text class="s" x="197.10" y="861.90" font-size="7" fill="#050505" stroke="#050505" stroke-width="0.3" text-anchor="start" textLength="39.80" lengthAdjust="spacingAndGlyphs">European: 2</text>
<text class="s" x="175.60" y="906.70" font-size="7" fill="#050505" stroke="#050505" stroke-width="0.3" text-anchor="start" textLength="61.30" lengthAdjust="spacingAndGlyphs">White Hispanic: 19</text>
<text class="s" x="206.20" y="952.50" font-size="7" fill="#050505" stroke="#050505" stroke-width="0.3" text-anchor="start" textLength="30.70" lengthAdjust="spacingAndGlyphs">African: 1</text>
<text class="s" x="211.20" y="969.80" font-size="7" fill="#050505" stroke="#050505" stroke-width="0.3" text-anchor="start" textLength="25.70" lengthAdjust="spacingAndGlyphs">Asian: 3</text>
<text class="s" x="179.20" y="991.00" font-size="7" fill="#050505" stroke="#050505" stroke-width="0.3" text-anchor="start" textLength="57.70" lengthAdjust="spacingAndGlyphs">Middle Eastern: 4</text>
<text class="s" x="160.00" y="1009.20" font-size="7" fill="#050505" stroke="#050505" stroke-width="0.3" text-anchor="start" textLength="76.90" lengthAdjust="spacingAndGlyphs">Mixed non-European: 1</text>
<text class="t" x="295.00" y="814.40" font-size="10.0" fill="#aa111b" stroke="#aa111b" stroke-width="0.45" text-anchor="start" textLength="89.40" lengthAdjust="spacingAndGlyphs">Pt Race/ Ethnicity</text>
<text class="t" x="302.50" y="826.00" font-size="10.0" fill="#aa111b" stroke="#aa111b" stroke-width="0.45" text-anchor="start" textLength="73.80" lengthAdjust="spacingAndGlyphs">at Registration</text>
<text class="t" x="287.00" y="838.00" font-size="10.0" fill="#aa111b" stroke="#aa111b" stroke-width="0.45" text-anchor="start" textLength="106.30" lengthAdjust="spacingAndGlyphs">(“Refused to answer”</text>
<text class="t" x="294.50" y="850.20" font-size="10.0" fill="#aa111b" stroke="#aa111b" stroke-width="0.45" text-anchor="start" textLength="90.70" lengthAdjust="spacingAndGlyphs">or “Unknown” pts,</text>
<text class="t" x="322.50" y="862.30" font-size="10.0" fill="#aa111b" stroke="#aa111b" stroke-width="0.45" text-anchor="start" textLength="33.90" lengthAdjust="spacingAndGlyphs">n = 64)</text>
<text class="t" x="457.70" y="816.20" font-size="10.0" fill="#aa111b" stroke="#aa111b" stroke-width="0.45" text-anchor="start" textLength="62.10" lengthAdjust="spacingAndGlyphs">BMT Service</text>
<text class="t" x="467.40" y="828.50" font-size="10.0" fill="#aa111b" stroke="#aa111b" stroke-width="0.45" text-anchor="start" textLength="41.80" lengthAdjust="spacingAndGlyphs">Ancestry</text>
<text class="t" x="459.20" y="840.30" font-size="10.0" fill="#aa111b" stroke="#aa111b" stroke-width="0.45" text-anchor="start" textLength="59.30" lengthAdjust="spacingAndGlyphs">Designation</text>
<text class="s" x="300.50" y="918.00" font-size="7" fill="#050505" stroke="#050505" stroke-width="0.3" text-anchor="start" textLength="73.20" lengthAdjust="spacingAndGlyphs">Refused to answer: 47</text>
<text class="s" x="300.50" y="988.80" font-size="7" fill="#050505" stroke="#050505" stroke-width="0.3" text-anchor="start" textLength="78.40" lengthAdjust="spacingAndGlyphs">Race/eth.: Unknown: 17</text>
<text class="s" x="467.70" y="878.80" font-size="7" fill="#050505" stroke="#050505" stroke-width="0.3" text-anchor="start" textLength="43.30" lengthAdjust="spacingAndGlyphs">European: 31</text>
<text class="s" x="449.40" y="925.60" font-size="7" fill="#050505" stroke="#050505" stroke-width="0.3" text-anchor="start" textLength="61.60" lengthAdjust="spacingAndGlyphs">White Hispanic: 11</text>
<text class="s" x="480.20" y="951.50" font-size="7" fill="#050505" stroke="#050505" stroke-width="0.3" text-anchor="start" textLength="31.10" lengthAdjust="spacingAndGlyphs">African: 7</text>
<text class="s" x="485.00" y="975.40" font-size="7" fill="#050505" stroke="#050505" stroke-width="0.3" text-anchor="start" textLength="26.30" lengthAdjust="spacingAndGlyphs">Asian: 3</text>
<text class="s" x="453.70" y="998.50" font-size="7" fill="#050505" stroke="#050505" stroke-width="0.3" text-anchor="start" textLength="57.60" lengthAdjust="spacingAndGlyphs">Middle Eastern: 6</text>
<text class="s" x="434.40" y="1022.10" font-size="7" fill="#050505" stroke="#050505" stroke-width="0.3" text-anchor="start" textLength="76.90" lengthAdjust="spacingAndGlyphs">Mixed non-European: 6</text></g>
</svg>
</body></html>
